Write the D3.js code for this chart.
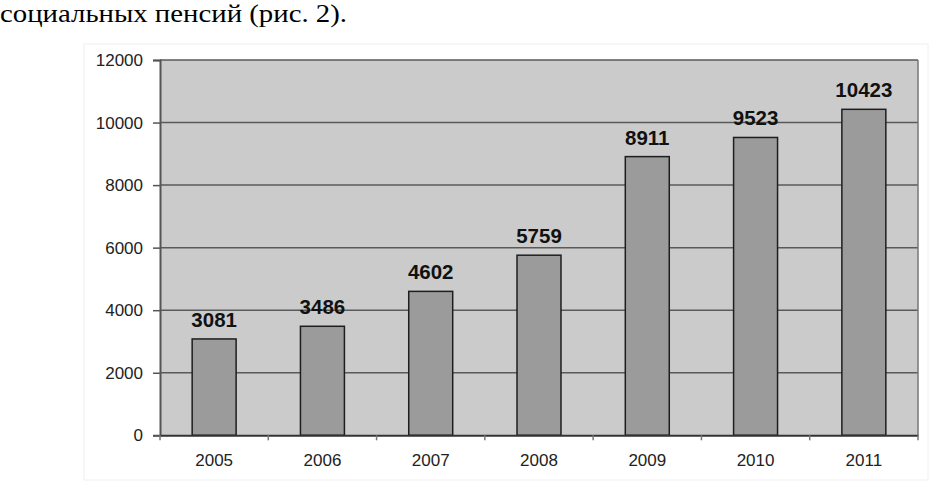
<!DOCTYPE html>
<html>
<head>
<meta charset="utf-8">
<script src="https://d3js.org/d3.v7.min.js"></script>
<style>
  body { margin: 0; background: #fff; }
  svg text { font-family: "Liberation Sans", Arial, sans-serif; }
</style>
</head>
<body>
<div id="chart"></div>
<script>
let years = ["2005", "2006", "2007", "2008", "2009", "2010", "2011"]
let pensions = [3081, 3486, 4602, 5759, 8911, 9523, 10423]
let yTicks = [0, 2000, 4000, 6000, 8000, 10000, 12000]
let caption = "социальных пенсий (рис. 2)."

let width = 937,
    height = 488
let plot = { left: 160, right: 918, top: 60, bottom: 435.3 }

let svg = d3.select("#chart").append("svg")
    .attr("width", width)
    .attr("height", height)

// caption line from the surrounding text (scan is stretched a bit wide)
svg.append("text")
    .attr("x", 0)
    .attr("y", 22)
    .attr("textLength", 347)
    .attr("lengthAdjust", "spacingAndGlyphs")
    .style("font-family", "'Liberation Serif', 'Times New Roman', serif")
    .style("font-size", "25px")
    .attr("fill", "#000")
    .text(caption)

// faint outer chart frame
svg.append("rect")
    .attr("x", 84)
    .attr("y", 44)
    .attr("width", 844)
    .attr("height", 436)
    .attr("fill", "none")
    .attr("stroke", "#f0f0f0")

let xSlot = d3.scaleBand()
    .domain(years)
    .range([plot.left, plot.right])
    .padding(0)

let xScale = d3.scaleBand()
    .domain(years)
    .range([plot.left, plot.right])
    .paddingInner(0.594)
    .paddingOuter(0.297)

let yScale = d3.scaleLinear()
    .domain([0, 12000])
    .range([plot.bottom, plot.top])

// plot background
svg.append("rect")
    .attr("x", plot.left)
    .attr("y", plot.top)
    .attr("width", plot.right - plot.left)
    .attr("height", plot.bottom - plot.top)
    .attr("fill", "#cbcbcb")

// gridlines
svg.append("g")
    .selectAll("line")
    .data(yTicks.slice(1))
    .enter()
    .append("line")
    .attr("x1", plot.left)
    .attr("x2", plot.right)
    .attr("y1", function(d) { return yScale(d); })
    .attr("y2", function(d) { return yScale(d); })
    .attr("stroke", "#5a5a5a")
    .attr("stroke-width", 1.5)

// right border
svg.append("line")
    .attr("x1", plot.right)
    .attr("x2", plot.right)
    .attr("y1", plot.top)
    .attr("y2", plot.bottom)
    .attr("stroke", "#777")
    .attr("stroke-width", 1.5)

// bars
svg.selectAll(".bar")
    .data(pensions)
    .enter()
    .append("rect")
    .attr("class", "bar")
    .attr("x", function(d, i) { return xScale(years[i]); })
    .attr("y", function(d) { return yScale(d); })
    .attr("width", xScale.bandwidth())
    .attr("height", function(d) { return plot.bottom - yScale(d); })
    .attr("fill", "#9b9b9b")
    .attr("stroke", "#1e1e1e")
    .attr("stroke-width", 1.5)

// value labels
svg.selectAll(".value")
    .data(pensions)
    .enter()
    .append("text")
    .attr("class", "value")
    .attr("x", function(d, i) { return xScale(years[i]) + xScale.bandwidth() / 2; })
    .attr("y", function(d) { return yScale(d) - 12; })
    .attr("text-anchor", "middle")
    .style("font-size", "20.5px")
    .style("font-weight", "bold")
    .attr("fill", "#111")
    .text(function(d) { return d; })

// y axis
let yAxis = svg.append("g")
    .attr("transform", "translate(" + plot.left + ",0)")
    .call(d3.axisLeft(yScale).tickValues(yTicks).tickSize(7).tickPadding(10).tickFormat(d3.format("d")))
yAxis.select(".domain").attr("stroke", "#555").attr("stroke-width", 2)
yAxis.selectAll(".tick line").attr("stroke", "#555").attr("stroke-width", 1.5)
yAxis.selectAll("text")
    .style("font-size", "17px")
    .attr("fill", "#222")

// x axis
let xAxis = svg.append("g")
    .attr("transform", "translate(0," + plot.bottom + ")")
    .call(d3.axisBottom(xSlot).tickSize(0).tickPadding(19))
xAxis.select(".domain").attr("stroke", "#333").attr("stroke-width", 2)
xAxis.selectAll("text")
    .style("font-size", "17px")
    .attr("fill", "#222")

// tick marks at category boundaries
xAxis.selectAll(".boundary")
    .data(years.concat(["end"]))
    .enter()
    .append("line")
    .attr("class", "boundary")
    .attr("x1", function(d) { return d === "end" ? plot.right : xSlot(d); })
    .attr("x2", function(d) { return d === "end" ? plot.right : xSlot(d); })
    .attr("y1", 0)
    .attr("y2", 5)
    .attr("stroke", "#777")
    .attr("stroke-width", 1.5)
</script>
</body>
</html>
